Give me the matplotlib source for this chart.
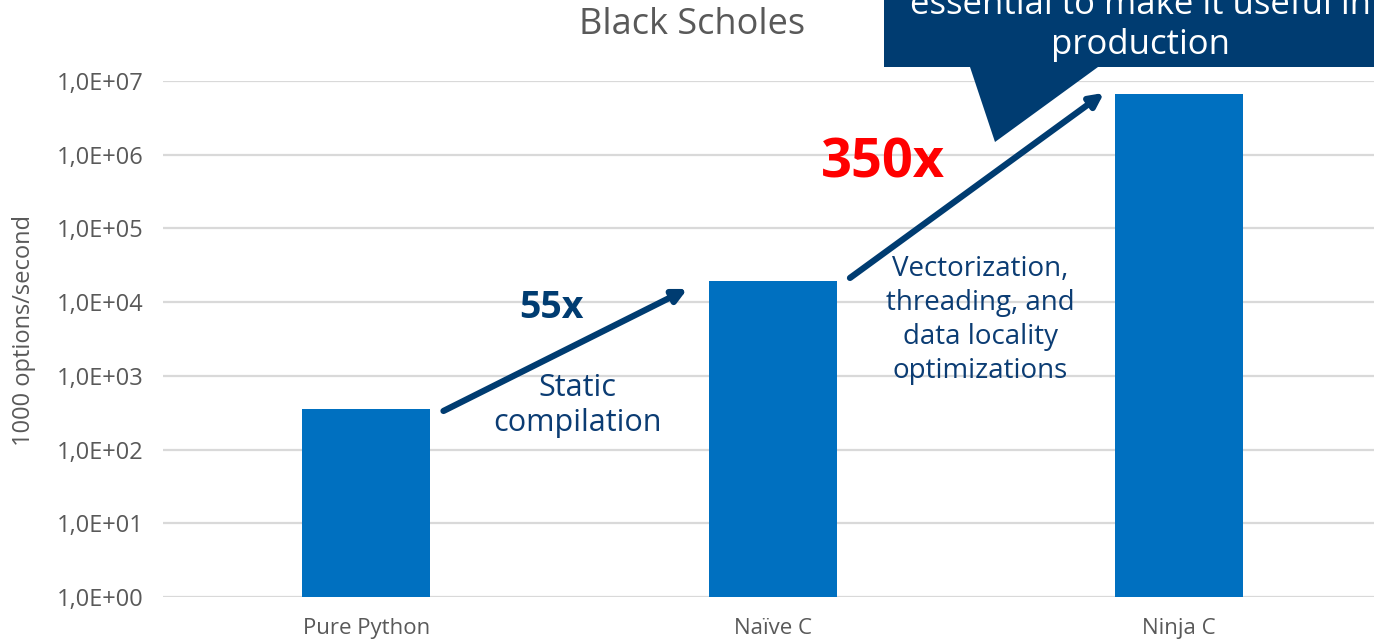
import matplotlib
matplotlib.use("Agg")
import matplotlib.pyplot as plt
from matplotlib.patches import Polygon
from matplotlib.ticker import FuncFormatter

# throughput per implementation (1000 options / second)
categories = ["Pure Python", "Naïve C", "Ninja C"]
throughput = [350, 19250, 6.74e6]
speedups = ["55x", "350x"]

BAR_BLUE = "#0070C0"
DARK_BLUE = "#003C71"
TEXT_BLUE = "#0B3C73"
GREY = "#595959"

plt.rcParams["font.family"] = ["Open Sans", "DejaVu Sans"]

fig = plt.figure(figsize=(13.74, 6.44), dpi=100)
ax = fig.add_axes([163 / 1374, 1 - 597 / 644, 1219.5 / 1374, (597 - 81) / 644])

x = range(len(categories))
ax.bar(x, throughput, width=0.315, color=BAR_BLUE, zorder=3)
ax.set_yscale("log")
ax.set_ylim(1, 1e7)
ax.set_xlim(-0.5, 2.5)
ax.set_yticks([10 ** k for k in range(8)])
ax.yaxis.set_minor_locator(matplotlib.ticker.NullLocator())
ax.yaxis.set_major_formatter(FuncFormatter(lambda v, p: f"{v:.1E}".replace(".", ",")))
ax.set_xticks(list(x))
ax.set_xticklabels(categories)
ax.tick_params(axis="both", length=0, colors=GREY)
ax.tick_params(axis="y", pad=14, labelsize=17)
ax.tick_params(axis="x", pad=15, labelsize=16)
ax.grid(axis="y", color="#D9D9D9", linewidth=1.6, zorder=0)
for s in ax.spines.values():
    s.set_visible(False)

ax.set_ylabel("1000 options/second", fontsize=17, color=GREY)
ax.yaxis.set_label_coords(-0.104, 0.517)
fig.text(692 / 1374, 1 - 25 / 644, "Black Scholes", ha="center", va="center",
         fontsize=26, color=GREY)

# speed-up arrows between bars
arrow = dict(arrowstyle="-|>,head_length=0.8,head_width=0.4", color=DARK_BLUE,
             lw=4.5, shrinkA=0, shrinkB=0)
ax.annotate("", xy=(0.79, 15100), xytext=(0.19, 334), arrowprops=arrow, zorder=5)
ax.annotate("", xy=(1.815, 6.9e6), xytext=(1.19, 21300), arrowprops=arrow, zorder=5)

ax.text(0.455, 8300, speedups[0], ha="center", va="center", fontsize=27,
        fontweight="bold", color=DARK_BLUE)
ax.text(1.27, 7.7e5, speedups[1], ha="center", va="center", fontsize=39,
        fontweight="bold", color="#FF0000")
ax.text(0.52, 400, "Static\ncompilation", ha="center", va="center", fontsize=22,
        color=TEXT_BLUE, linespacing=1.22)
ax.text(1.51, 5750, "Vectorization,\nthreading, and\ndata locality\noptimizations",
        ha="center", va="center", fontsize=20, color=TEXT_BLUE, linespacing=1.28)

# callout box at the top right
def px(xp, yp):
    return (xp / 1374, 1 - yp / 644)

box = Polygon([px(884, -40), px(1400, -40), px(1400, 67), px(1098, 67),
               px(995, 142), px(970, 67), px(884, 67)],
              closed=True, transform=fig.transFigure, facecolor=DARK_BLUE,
              edgecolor="none", zorder=10)
fig.patches.append(box)
fig.text(1140 / 1374, 1 - 25 / 644,
         "essential to make it useful in\nproduction", ha="center", va="center",
         fontsize=25, color="white", linespacing=1.2, zorder=11)

fig.savefig("out.png", dpi=100)
